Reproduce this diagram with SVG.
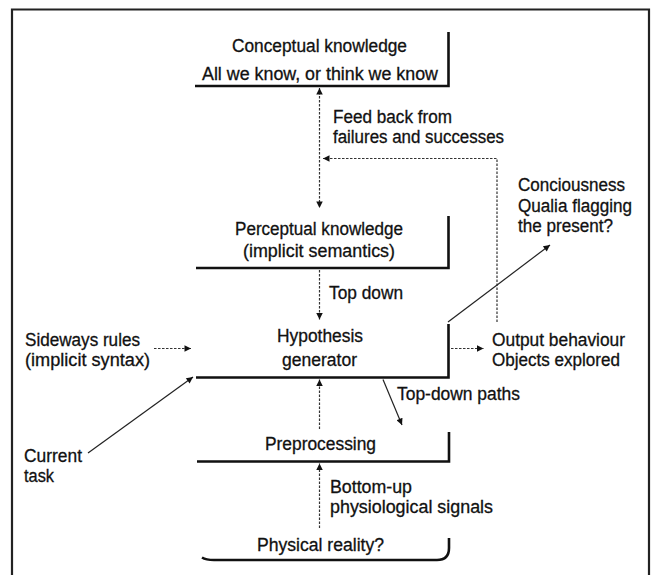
<svg xmlns="http://www.w3.org/2000/svg" width="653" height="575" viewBox="0 0 653 575">
<defs>
<marker id="ah" viewBox="0 0 10 10" refX="10" refY="5" markerWidth="9" markerHeight="6.5" markerUnits="userSpaceOnUse" orient="auto-start-reverse">
<path d="M0,0 L10,5 L0,10 Z" fill="#111"/>
</marker>
</defs>
<style>
text{font-family:"Liberation Sans",Arial,sans-serif;font-size:18px;fill:#111;stroke:#111;stroke-width:0.3}
.node{fill:none;stroke:#111;stroke-width:2.6}
.dash{fill:none;stroke:#333;stroke-width:1.2;stroke-dasharray:2.5 1.5}
.solid{fill:none;stroke:#222;stroke-width:1.2}
</style>
<rect width="653" height="575" fill="#fff"/>
<path d="M12,576 V9.5 H649 V576" fill="none" stroke="#222" stroke-width="2.2"/>

<g id="conceptual">
<path class="node" d="M195,86 H448.5 V32"/>
<text x="232" y="52" textLength="175" lengthAdjust="spacingAndGlyphs">Conceptual knowledge</text>
<text x="202" y="80" textLength="236" lengthAdjust="spacingAndGlyphs">All we know, or think we know</text>
</g>

<g id="perceptual">
<path class="node" d="M196,268 H448.5 V216"/>
<text x="235" y="235" textLength="168" lengthAdjust="spacingAndGlyphs">Perceptual knowledge</text>
<text x="243" y="257" textLength="152" lengthAdjust="spacingAndGlyphs">(implicit semantics)</text>
</g>

<g id="hypothesis">
<path class="node" d="M196,377.5 H448.5 V324"/>
<text x="277" y="341.5" textLength="86" lengthAdjust="spacingAndGlyphs">Hypothesis</text>
<text x="282" y="365.5" textLength="75" lengthAdjust="spacingAndGlyphs">generator</text>
</g>

<g id="preprocessing">
<path class="node" d="M197,461.5 H449 V432"/>
<text x="265" y="450" textLength="111" lengthAdjust="spacingAndGlyphs">Preprocessing</text>
</g>

<g id="physical">
<path class="node" d="M202,557.5 Q206,560 214,560 H437 Q449,560 449,548 V538"/>
<text x="257" y="551" textLength="127" lengthAdjust="spacingAndGlyphs">Physical reality?</text>
</g>

<g id="sideways">
<text x="25" y="346" textLength="115" lengthAdjust="spacingAndGlyphs">Sideways rules</text>
<text x="25" y="366" textLength="125" lengthAdjust="spacingAndGlyphs">(implicit syntax)</text>
</g>

<g id="current-task">
<text x="24" y="461.5" textLength="58" lengthAdjust="spacingAndGlyphs">Current</text>
<text x="24" y="482" textLength="30" lengthAdjust="spacingAndGlyphs">task</text>
</g>

<g id="output">
<text x="492" y="346" textLength="133" lengthAdjust="spacingAndGlyphs">Output behaviour</text>
<text x="492" y="366" textLength="128" lengthAdjust="spacingAndGlyphs">Objects explored</text>
</g>

<g id="consciousness">
<text x="518" y="191" textLength="107" lengthAdjust="spacingAndGlyphs">Conciousness</text>
<text x="518" y="211.5" textLength="114" lengthAdjust="spacingAndGlyphs">Qualia flagging</text>
<text x="518" y="232" textLength="95" lengthAdjust="spacingAndGlyphs">the present?</text>
</g>

<g id="connectors">
<path class="dash" d="M319.5,88 V208" marker-start="url(#ah)" marker-end="url(#ah)"/>
<path class="dash" d="M497,322 V158.5 H323" marker-end="url(#ah)"/>
<path class="dash" d="M319.5,270 V319.5" marker-end="url(#ah)"/>
<path class="dash" d="M154,348.5 H191" marker-end="url(#ah)"/>
<path class="dash" d="M451,348.5 H483.5" marker-end="url(#ah)"/>
<path class="solid" d="M448,322 L550,245" marker-end="url(#ah)"/>
<path class="solid" d="M88,453 L193,377" marker-end="url(#ah)"/>
<path class="dash" d="M319.5,429 V379.5" marker-end="url(#ah)"/>
<path class="solid" d="M383,379.5 L402,425" marker-end="url(#ah)"/>
<path class="dash" d="M319.5,528 V463.5" marker-end="url(#ah)"/>
<text x="333" y="122.5" textLength="119" lengthAdjust="spacingAndGlyphs">Feed back from</text>
<text x="333" y="143" textLength="171" lengthAdjust="spacingAndGlyphs">failures and successes</text>
<text x="329" y="299" textLength="74" lengthAdjust="spacingAndGlyphs">Top down</text>
<text x="397" y="400" textLength="123" lengthAdjust="spacingAndGlyphs">Top-down paths</text>
<text x="330" y="493" textLength="82" lengthAdjust="spacingAndGlyphs">Bottom-up</text>
<text x="330" y="513" textLength="163" lengthAdjust="spacingAndGlyphs">physiological signals</text>
</g>
</svg>
